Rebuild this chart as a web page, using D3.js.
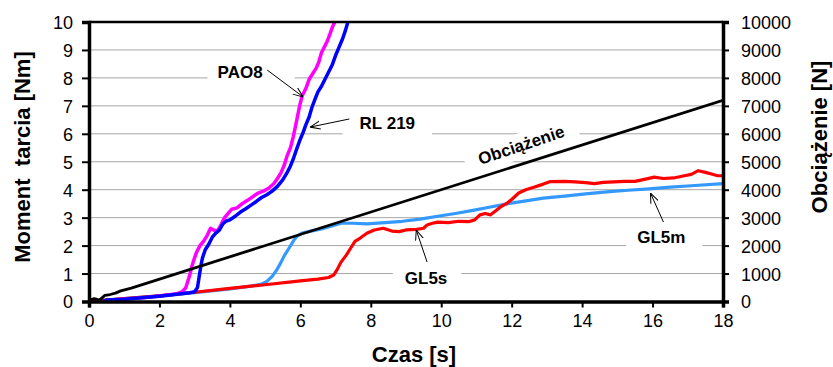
<!DOCTYPE html>
<html>
<head>
<meta charset="utf-8">
<script src="https://cdn.jsdelivr.net/npm/d3@7"></script>
<style>
    body { margin: 0; background: #fff; }
    svg { font-family: "Liberation Sans", Arial, sans-serif; }
    .grid line { stroke: #a6a6a6; stroke-width: 1; }
    .axis path, .axis line { stroke: #000; }
    .axis text { font-size: 18px; fill: #000; }
    .title { font-size: 22px; font-weight: bold; }
    .lbl { font-size: 17px; font-weight: bold; }
    .series { fill: none; stroke-linejoin: round; }
</style>
</head>
<body>
<script>
// time [s] -> moment [Nm]
var pao8 = [[0.4,0],[1,0.08],[1.5,0.13],[2,0.2],[2.5,0.28],[2.65,0.35],[2.75,0.5],[2.85,0.9],[2.92,1.25],[2.98,1.5],[3.05,1.75],[3.15,2.0],[3.25,2.15],[3.35,2.35],[3.45,2.62],[3.55,2.55],[3.65,2.52],[3.75,2.75],[3.85,3.0],[3.95,3.15],[4.05,3.3],[4.2,3.35],[4.35,3.5],[4.5,3.62],[4.65,3.75],[4.8,3.88],[4.95,3.95],[5.1,4.05],[5.25,4.22],[5.35,4.4],[5.45,4.6],[5.55,4.9],[5.62,5.2],[5.72,5.5],[5.8,5.9],[5.9,6.5],[5.98,7.0],[6.05,7.35],[6.15,7.6],[6.25,7.95],[6.35,8.15],[6.45,8.35],[6.52,8.55],[6.6,8.9],[6.68,9.1],[6.76,9.3],[6.85,9.6],[6.92,9.85],[6.98,10]];
var rl219 = [[0.4,0],[0.5,0.05],[1,0.08],[1.5,0.13],[2,0.19],[2.5,0.26],[2.8,0.3],[3.0,0.35],[3.08,0.5],[3.13,0.9],[3.18,1.3],[3.22,1.55],[3.3,1.85],[3.4,2.05],[3.5,2.3],[3.6,2.45],[3.7,2.55],[3.8,2.78],[3.9,2.88],[4.0,2.92],[4.15,3.05],[4.3,3.2],[4.45,3.32],[4.6,3.45],[4.75,3.58],[4.9,3.72],[5.05,3.82],[5.2,3.95],[5.35,4.12],[5.5,4.35],[5.62,4.6],[5.72,4.85],[5.8,5.1],[5.88,5.4],[5.98,5.75],[6.08,6.05],[6.15,6.3],[6.25,6.6],[6.33,6.95],[6.42,7.25],[6.5,7.5],[6.6,7.7],[6.7,7.95],[6.8,8.2],[6.9,8.45],[7.0,8.8],[7.1,9.1],[7.2,9.4],[7.28,9.7],[7.35,10]];
var gl5m = [[0,0],[1,0.1],[2,0.2],[3,0.32],[4,0.45],[4.6,0.55],[4.9,0.62],[5.05,0.72],[5.2,0.9],[5.33,1.13],[5.45,1.4],[5.55,1.65],[5.7,1.95],[5.82,2.2],[5.92,2.35],[6.05,2.45],[6.3,2.52],[6.6,2.6],[6.9,2.7],[7.15,2.8],[7.5,2.8],[7.9,2.78],[8.4,2.82],[8.9,2.87],[9.4,2.95],[9.9,3.05],[10.4,3.15],[10.9,3.26],[11.4,3.38],[11.9,3.5],[12.4,3.6],[12.9,3.7],[13.5,3.77],[14.1,3.85],[14.7,3.92],[15.3,3.98],[15.9,4.03],[16.5,4.09],[17.2,4.15],[18,4.22]];
var gl5s = [[0,0],[1,0.1],[2,0.2],[3,0.33],[4,0.47],[5,0.6],[6,0.74],[6.5,0.8],[6.8,0.86],[6.95,0.95],[7.05,1.15],[7.15,1.4],[7.3,1.65],[7.45,1.95],[7.55,2.15],[7.7,2.27],[7.9,2.45],[8.1,2.56],[8.35,2.62],[8.6,2.52],[8.8,2.5],[9.0,2.56],[9.3,2.58],[9.5,2.62],[9.6,2.74],[9.75,2.8],[9.9,2.84],[10.2,2.82],[10.5,2.87],[10.8,2.86],[10.95,2.92],[11.1,3.1],[11.25,3.15],[11.4,3.1],[11.55,3.25],[11.7,3.4],[11.85,3.5],[12.0,3.65],[12.2,3.88],[12.4,4.0],[12.65,4.1],[12.9,4.2],[13.1,4.29],[13.5,4.3],[13.8,4.28],[14.1,4.25],[14.35,4.22],[14.6,4.26],[14.9,4.28],[15.2,4.3],[15.5,4.3],[15.8,4.38],[16.05,4.45],[16.3,4.4],[16.6,4.42],[16.9,4.5],[17.1,4.55],[17.3,4.68],[17.5,4.62],[17.7,4.55],[17.85,4.5],[18,4.5]];
// time [s] -> load [N]
var obciazenie = [[0,50],[0.15,100],[0.3,50],[0.45,220],[0.6,250],[0.75,300],[0.9,380],[1.2,480],[18,7200]];

var xTicks = d3.range(0, 19, 2);
var yTicks = d3.range(0, 11, 1);
var y2Ticks = d3.range(0, 10001, 1000);

// label text, text position, arrow tail, arrow head (data units)
var labelNames = ['PAO8', 'RL 219', 'GL5s', 'GL5m'];
var labelPos = [[4.29, 8.21], [8.47, 6.39], [9.57, 0.84], [16.25, 2.31]];
var arrowFrom = [[5.06, 8.28], [7.39, 6.53], [9.6, 1.41], [16.31, 2.84]];
var arrowTo = [[6.08, 7.32], [6.28, 6.24], [9.29, 2.56], [15.94, 3.88]];

var svgWidth = 833, svgHeight = 367;
var margin = { left: 89, right: 110, top: 22, bottom: 65.5 };

var xScale = d3.scaleLinear().domain([0, 18]).range([margin.left, svgWidth - margin.right]);
var yScale = d3.scaleLinear().domain([0, 10]).range([svgHeight - margin.bottom, margin.top]);
var y2Scale = d3.scaleLinear().domain([0, 10000]).range([svgHeight - margin.bottom, margin.top]);

var svg = d3.select('body')
    .append('svg')
    .attr('width', svgWidth)
    .attr('height', svgHeight);

svg.append('defs').append('clipPath')
    .attr('id', 'plot')
    .append('rect')
    .attr('x', xScale(0))
    .attr('y', yScale(10) - 2)
    .attr('width', xScale(18) - xScale(0))
    .attr('height', yScale(0) - yScale(10) + 2);

svg.select('defs').append('marker')
    .attr('id', 'arrow')
    .attr('viewBox', '0 0 10 10')
    .attr('refX', 10).attr('refY', 5)
    .attr('markerWidth', 10).attr('markerHeight', 10)
    .attr('markerUnits', 'userSpaceOnUse')
    .attr('orient', 'auto')
    .append('path')
    .attr('d', 'M0,1 L10,5 L0,9')
    .attr('fill', 'none')
    .attr('stroke', '#000')
    .attr('stroke-width', 1);

// gridlines
svg.append('g')
    .attr('class', 'grid')
    .selectAll('line')
    .data(yTicks.slice(1, -1))
    .enter().append('line')
    .attr('x1', xScale(0)).attr('x2', xScale(18))
    .attr('y1', function(d) { return yScale(d); })
    .attr('y2', function(d) { return yScale(d); });

// label boxes (white) hiding grid under texts
var boxLayer = svg.append('g');
var textLayer = svg.append('g');

var pads = [[10, 32], [17, 17], [12, 14], [11, 17]];
labelNames.forEach(function(name, i) {
    var t = textLayer.append('text')
        .attr('class', 'lbl')
        .attr('x', xScale(labelPos[i][0]))
        .attr('y', yScale(labelPos[i][1]) + 6)
        .attr('text-anchor', 'middle')
        .text(name);
    var b = t.node().getBBox();
    boxLayer.append('rect')
        .attr('x', b.x - pads[i][0])
        .attr('y', b.y - 4)
        .attr('width', b.width + pads[i][0] + pads[i][1])
        .attr('height', b.height + 8)
        .attr('fill', '#fff');
});

// Obciążenie label, rotated along its line
var angle = Math.atan2(y2Scale(7200) - y2Scale(0), xScale(18) - xScale(0)) * 180 / Math.PI;
var ox = xScale(12.27), oy = yScale(5.6);
var ob = textLayer.append('text')
    .attr('class', 'lbl')
    .attr('text-anchor', 'middle')
    .attr('transform', 'translate(' + ox + ',' + oy + ') rotate(' + (angle - 1) + ')')
    .attr('y', 6)
    .text('Obciążenie');
var obb = ob.node().getBBox();
boxLayer.append('rect')
    .attr('transform', 'translate(' + ox + ',' + oy + ') rotate(' + (angle - 1) + ')')
    .attr('x', obb.x - 14)
    .attr('y', obb.y - 3)
    .attr('width', obb.width + 28)
    .attr('height', obb.height + 6)
    .attr('fill', '#fff');

var line = d3.line()
    .x(function(d) { return xScale(d[0]); })
    .y(function(d) { return yScale(d[1]); });

var line2 = d3.line()
    .x(function(d) { return xScale(d[0]); })
    .y(function(d) { return y2Scale(d[1]); });

var plot = svg.append('g').attr('clip-path', 'url(#plot)');

plot.append('path').datum(gl5m).attr('class', 'series')
    .attr('stroke', '#3399ff').attr('stroke-width', 3.2).attr('d', line);
plot.append('path').datum(gl5s).attr('class', 'series')
    .attr('stroke', '#ff0000').attr('stroke-width', 3.2).attr('d', line);
plot.append('path').datum(pao8).attr('class', 'series')
    .attr('stroke', '#ff00ff').attr('stroke-width', 3.5).attr('d', line);
plot.append('path').datum(rl219).attr('class', 'series')
    .attr('stroke', '#0000ff').attr('stroke-width', 3.5).attr('d', line);
plot.append('path').datum(obciazenie).attr('class', 'series')
    .attr('stroke', '#000').attr('stroke-width', 2.8).attr('d', line2);

textLayer.raise();

// arrows
svg.append('g')
    .selectAll('line')
    .data(labelNames)
    .enter().append('line')
    .attr('x1', function(d, i) { return xScale(arrowFrom[i][0]); })
    .attr('y1', function(d, i) { return yScale(arrowFrom[i][1]); })
    .attr('x2', function(d, i) { return xScale(arrowTo[i][0]); })
    .attr('y2', function(d, i) { return yScale(arrowTo[i][1]); })
    .attr('stroke', '#000')
    .attr('stroke-width', 1)
    .attr('marker-end', 'url(#arrow)');

// top border
svg.append('line')
    .attr('x1', xScale(0)).attr('x2', xScale(18))
    .attr('y1', yScale(10)).attr('y2', yScale(10))
    .attr('stroke', '#000').attr('stroke-width', 2.5);

// axes
var xAxis = d3.axisBottom(xScale).tickValues(xTicks).tickSize(6).tickPadding(7);
var yAxis = d3.axisLeft(yScale).tickValues(yTicks).tickSize(7).tickPadding(9);
var y2Axis = d3.axisRight(y2Scale).tickValues(y2Ticks).tickSize(6).tickPadding(12)
    .tickFormat(d3.format('d'));

svg.append('g')
    .attr('class', 'x axis')
    .attr('transform', 'translate(0,' + yScale(0) + ')')
    .call(xAxis);

svg.append('g')
    .attr('class', 'y axis')
    .attr('transform', 'translate(' + xScale(0) + ',0)')
    .call(yAxis);

svg.append('g')
    .attr('class', 'y2 axis')
    .attr('transform', 'translate(' + xScale(18) + ',0)')
    .call(y2Axis);

svg.selectAll('.axis .domain').attr('stroke-width', 3.5);
svg.selectAll('.axis .tick line').attr('stroke-width', 2);
svg.selectAll('.axis text').attr('dy', '0.36em');
svg.selectAll('.x.axis text').attr('dy', '0.71em');

// axis titles
svg.append('text')
    .attr('class', 'title')
    .attr('text-anchor', 'middle')
    .attr('x', 414).attr('y', 362)
    .text('Czas [s]');

svg.append('text')
    .attr('class', 'title')
    .attr('text-anchor', 'middle')
    .attr('transform', 'translate(30,157) rotate(-90)')
    .text('Moment  tarcia [Nm]')
    .style('white-space', 'pre');

svg.append('text')
    .attr('class', 'title')
    .attr('text-anchor', 'middle')
    .attr('transform', 'translate(827,137) rotate(-90)')
    .text('Obciążenie [N]');
</script>
</body>
</html>
